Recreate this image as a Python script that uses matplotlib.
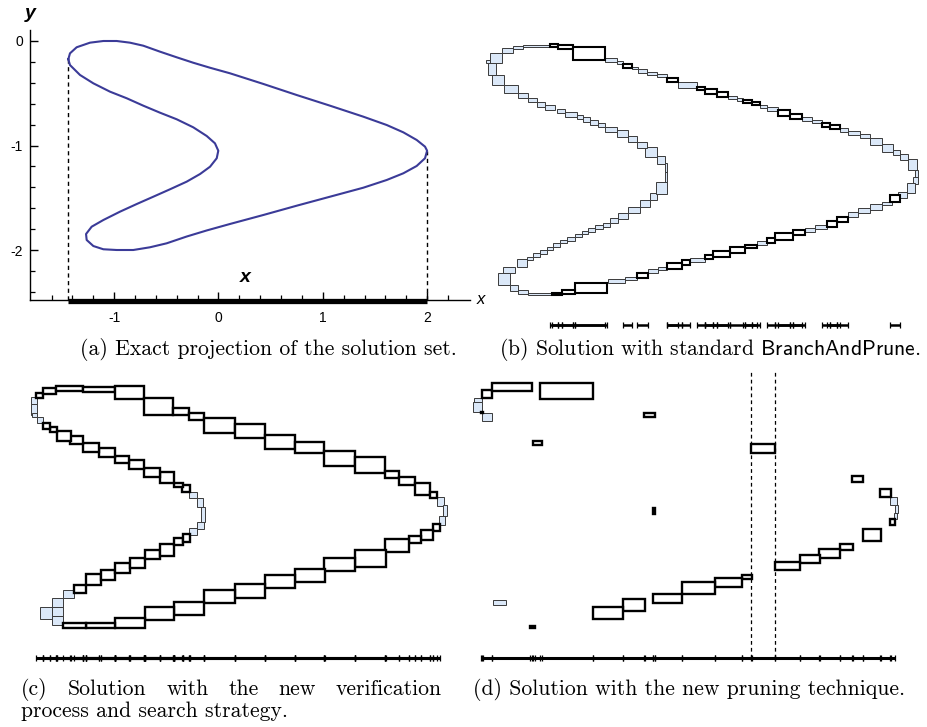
import matplotlib
matplotlib.use("Agg")
import matplotlib.pyplot as plt
from matplotlib.patches import Rectangle

plt.rcParams['axes.unicode_minus'] = False
plt.rcParams['mathtext.fontset'] = 'cm'

# ---------------- data ----------------
# (a) exact solution curve (x, y), closed loop
CURVE_PTS = [(-1.440, -0.175), (-1.424, -0.118), (-1.360, -0.060), (-1.232, -0.016),
             (-1.104, 0.000), (-0.976, 0.000), (-0.849, -0.016), (-0.721, -0.045),
             (-0.561, -0.102), (-0.401, -0.156), (-0.242, -0.208), (-0.081, -0.256),
             (0.110, -0.309), (0.430, -0.411), (0.750, -0.517), (1.069, -0.619),
             (1.388, -0.724), (1.613, -0.804), (1.772, -0.874), (1.900, -0.947),
             (1.980, -1.011), (2.000, -1.050), (1.980, -1.122), (1.900, -1.196),
             (1.772, -1.266), (1.613, -1.330), (1.388, -1.404), (1.069, -1.490),
             (0.750, -1.576), (0.430, -1.665), (0.110, -1.751), (-0.113, -1.813),
             (-0.305, -1.871), (-0.497, -1.936), (-0.657, -1.974), (-0.817, -2.000),
             (-0.976, -2.000), (-1.104, -1.993), (-1.200, -1.962), (-1.264, -1.904),
             (-1.270, -1.847), (-1.216, -1.777), (-1.104, -1.713), (-0.944, -1.633),
             (-0.784, -1.560), (-0.625, -1.490), (-0.465, -1.419), (-0.305, -1.346),
             (-0.177, -1.273), (-0.081, -1.203), (-0.017, -1.122), (-0.002, -1.050),
             (-0.034, -0.979), (-0.113, -0.909), (-0.242, -0.826), (-0.401, -0.749),
             (-0.561, -0.686), (-0.721, -0.619), (-0.880, -0.548), (-1.040, -0.485),
             (-1.200, -0.405), (-1.328, -0.325), (-1.424, -0.230)]
A_PROJ = (-1.44, 2.0)          # exact projection on x
A_LEFT_PT = (-1.44, -0.175)    # leftmost point of the curve
A_RIGHT_PT = (2.0, -1.05)      # rightmost point of the curve
A_XTICKS = [-1, 0, 1, 2]
A_XTICKLABELS = ['-1', '0', '1', '2']
A_XMINOR = [-1.6, -1.4, -1.2, -0.8, -0.6, -0.4, -0.2, 0.2, 0.4, 0.6, 0.8,
            1.2, 1.4, 1.6, 1.8, 2.2]
A_YTICKS = [0, -1, -2]
A_YTICKLABELS = ['0', '-1', '-2']
A_YMINOR = [-0.2, -0.4, -0.6, -0.8, -1.2, -1.4, -1.6, -1.8, -2.2, -2.4]

# boxes: (x0, x1, y0, y1)
# (b) standard BranchAndPrune
B_BLUE = [(-1.416, -1.323, -0.141, -0.061), (-1.451, -1.416, -0.147, -0.120),
          (-1.323, -1.229, -0.061, -0.027), (-1.229, -1.149, -0.035, -0.005),
          (-1.149, -0.936, -0.013, 0.003), (-0.496, -0.403, -0.133, -0.107),
          (-0.403, -0.349, -0.152, -0.125), (-0.283, -0.229, -0.195, -0.173),
          (-0.229, -0.163, -0.221, -0.195), (-0.163, -0.083, -0.240, -0.213),
          (-0.083, -0.003, -0.259, -0.232), (0.091, 0.237, -0.340, -0.293),
          (0.491, 0.557, -0.435, -0.408), (0.557, 0.611, -0.448, -0.427),
          (0.744, 0.797, -0.501, -0.480), (0.797, 0.891, -0.525, -0.493),
          (1.077, 1.157, -0.605, -0.579), (1.157, 1.237, -0.627, -0.600),
          (1.384, 1.451, -0.693, -0.667), (1.451, 1.544, -0.720, -0.688),
          (1.544, 1.624, -0.747, -0.715), (1.624, 1.717, -0.800, -0.747),
          (1.717, 1.811, -0.853, -0.795), (1.811, 1.864, -0.880, -0.840),
          (1.864, 1.931, -0.920, -0.872), (1.931, 1.997, -1.000, -0.915),
          (1.984, 2.005, -1.053, -1.000), (1.971, 2.005, -1.112, -1.053),
          (1.917, 1.984, -1.187, -1.107), (1.851, 1.917, -1.227, -1.173),
          (1.717, 1.797, -1.280, -1.253), (1.624, 1.717, -1.320, -1.272),
          (1.531, 1.624, -1.347, -1.307), (1.451, 1.531, -1.373, -1.333),
          (1.184, 1.277, -1.475, -1.440), (1.104, 1.184, -1.493, -1.467),
          (0.717, 0.797, -1.600, -1.568), (0.184, 0.304, -1.733, -1.707),
          (-0.069, -0.003, -1.800, -1.773), (-0.149, -0.069, -1.827, -1.795),
          (-0.336, -0.243, -1.880, -1.853), (-0.469, -0.336, -1.907, -1.875),
          (-1.109, -0.923, -2.000, -1.987), (-1.189, -1.109, -1.992, -1.960),
          (-1.256, -1.189, -1.965, -1.920), (-1.349, -1.256, -1.920, -1.821),
          (-1.309, -1.216, -1.821, -1.773), (-1.203, -1.123, -1.779, -1.715),
          (-1.123, -1.069, -1.720, -1.693), (-1.069, -1.016, -1.699, -1.667),
          (-1.016, -0.963, -1.672, -1.640), (-0.963, -0.909, -1.640, -1.613),
          (-0.909, -0.856, -1.619, -1.587), (-0.856, -0.803, -1.587, -1.560),
          (-0.803, -0.736, -1.565, -1.533), (-0.736, -0.683, -1.539, -1.512),
          (-0.683, -0.629, -1.512, -1.485), (-0.629, -0.576, -1.493, -1.467),
          (-0.576, -0.509, -1.472, -1.440), (-0.509, -0.456, -1.453, -1.421),
          (-0.456, -0.389, -1.427, -1.387), (-0.389, -0.309, -1.395, -1.341),
          (-0.309, -0.216, -1.347, -1.293), (-0.216, -0.136, -1.299, -1.240),
          (-0.136, -0.083, -1.240, -1.187), (-0.088, 0.003, -1.192, -1.093),
          (-0.016, 0.003, -1.093, -1.000), (-0.016, 0.003, -1.013, -0.947),
          (-0.083, -0.016, -0.952, -0.888), (-0.176, -0.083, -0.893, -0.819),
          (-0.243, -0.163, -0.827, -0.773), (-0.309, -0.243, -0.773, -0.728),
          (-0.403, -0.309, -0.733, -0.680), (-0.496, -0.403, -0.693, -0.653),
          (-0.549, -0.496, -0.659, -0.627), (-0.616, -0.549, -0.640, -0.600),
          (-0.669, -0.616, -0.613, -0.579), (-0.723, -0.669, -0.595, -0.560),
          (-0.816, -0.723, -0.573, -0.533), (-0.883, -0.816, -0.547, -0.515),
          (-0.976, -0.896, -0.520, -0.480), (-1.043, -0.976, -0.493, -0.453),
          (-1.109, -1.043, -0.453, -0.427), (-1.189, -1.109, -0.427, -0.381),
          (-1.301, -1.195, -0.381, -0.320), (-1.397, -1.301, -0.320, -0.240),
          (-1.429, -1.371, -0.240, -0.147)]
B_BLACK = [(-0.936, -0.869, -0.013, 0.005), (-0.869, -0.749, -0.035, -0.003),
           (-0.749, -0.496, -0.120, -0.013), (-0.349, -0.283, -0.187, -0.152),
           (-0.003, 0.091, -0.299, -0.261), (0.237, 0.304, -0.360, -0.333),
           (0.304, 0.397, -0.392, -0.352), (0.397, 0.491, -0.413, -0.373),
           (0.611, 0.677, -0.467, -0.440), (0.677, 0.744, -0.480, -0.453),
           (0.891, 0.984, -0.568, -0.520), (0.984, 1.077, -0.592, -0.552),
           (1.237, 1.304, -0.653, -0.621), (1.304, 1.384, -0.675, -0.640),
           (1.784, 1.864, -1.253, -1.200), (1.357, 1.451, -1.413, -1.373),
           (1.277, 1.357, -1.453, -1.405), (1.011, 1.104, -1.520, -1.480),
           (0.864, 1.011, -1.560, -1.507), (0.797, 0.864, -1.587, -1.547),
           (0.624, 0.717, -1.627, -1.600), (0.504, 0.624, -1.661, -1.613),
           (0.371, 0.504, -1.693, -1.645), (0.304, 0.371, -1.715, -1.680),
           (0.117, 0.184, -1.760, -1.720), (-0.003, 0.117, -1.795, -1.747),
           (-0.243, -0.149, -1.867, -1.821), (-0.736, -0.483, -1.987, -1.907),
           (-0.843, -0.736, -1.995, -1.960), (-0.923, -0.843, -2.000, -1.981)]

# (c) new verification process and search strategy
C_BLUE = [(-1.439, -1.389, -0.153, -0.094), (-1.439, -1.389, -0.242, -0.153),
          (-1.431, -1.389, -0.261, -0.228), (-1.389, -1.333, -0.311, -0.256),
          (1.950, 2.008, -1.000, -0.922), (1.994, 2.028, -1.083, -0.992),
          (1.967, 2.017, -1.158, -1.083), (-1.264, -1.167, -1.992, -1.917),
          (-1.361, -1.264, -1.944, -1.844), (-1.264, -1.167, -1.917, -1.844),
          (-1.264, -1.167, -1.844, -1.764), (-1.167, -1.078, -1.764, -1.700),
          (-0.117, -0.056, -1.242, -1.186), (-0.056, 0.006, -1.194, -1.131),
          (-0.017, 0.011, -1.131, -1.006), (-0.056, 0.000, -1.006, -0.936),
          (-0.117, -0.056, -0.936, -0.881)]
C_BLACK = [(-1.394, -1.333, -0.103, -0.061), (-1.333, -1.228, -0.067, -0.019),
           (-1.228, -1.000, -0.039, 0.003), (-1.000, -0.736, -0.050, -0.006),
           (-0.736, -0.494, -0.111, 0.000), (-0.494, -0.250, -0.242, -0.103),
           (-0.250, -0.117, -0.242, -0.186), (-0.117, 0.006, -0.283, -0.222),
           (0.006, 0.264, -0.389, -0.264), (0.264, 0.514, -0.436, -0.317),
           (0.514, 0.764, -0.525, -0.408), (0.764, 1.006, -0.561, -0.464),
           (1.006, 1.264, -0.667, -0.542), (1.264, 1.514, -0.728, -0.594),
           (1.514, 1.633, -0.769, -0.708), (1.633, 1.764, -0.825, -0.756),
           (1.764, 1.889, -0.908, -0.811), (1.889, 1.950, -0.936, -0.881),
           (1.911, 1.972, -1.206, -1.150), (1.811, 1.917, -1.283, -1.200),
           (1.717, 1.811, -1.311, -1.250), (1.514, 1.717, -1.381, -1.278),
           (1.264, 1.522, -1.506, -1.367), (1.006, 1.264, -1.542, -1.431),
           (0.764, 1.014, -1.633, -1.528), (0.514, 0.764, -1.686, -1.575),
           (0.264, 0.514, -1.769, -1.653), (0.006, 0.264, -1.806, -1.700),
           (-0.244, 0.006, -1.908, -1.797), (-0.486, -0.244, -1.950, -1.839),
           (-0.736, -0.486, -2.019, -1.936), (-0.978, -0.736, -2.019, -1.978),
           (-1.172, -0.978, -2.019, -1.978), (-1.078, -0.978, -1.722, -1.658),
           (-0.978, -0.856, -1.658, -1.567), (-0.856, -0.736, -1.617, -1.533),
           (-0.736, -0.611, -1.561, -1.472), (-0.611, -0.486, -1.519, -1.436),
           (-0.486, -0.361, -1.444, -1.367), (-0.361, -0.244, -1.417, -1.317),
           (-0.244, -0.172, -1.325, -1.269), (-0.172, -0.111, -1.297, -1.233),
           (-0.181, -0.111, -0.886, -0.825), (-0.244, -0.172, -0.844, -0.806),
           (-0.361, -0.244, -0.811, -0.714), (-0.494, -0.361, -0.761, -0.686),
           (-0.617, -0.494, -0.692, -0.617), (-0.736, -0.617, -0.644, -0.581),
           (-0.867, -0.736, -0.594, -0.519), (-1.000, -0.867, -0.547, -0.478),
           (-1.111, -1.000, -0.483, -0.417), (-1.222, -1.106, -0.456, -0.372),
           (-1.278, -1.222, -0.381, -0.339), (-1.333, -1.278, -0.361, -0.306)]

# (d) new pruning technique
D_BLUE = [(-1.451, -1.389, -0.155, -0.122), (-1.457, -1.389, -0.236, -0.155),
          (-1.383, -1.302, -0.313, -0.245), (1.940, 2.000, -0.997, -0.929),
          (1.981, 2.008, -1.060, -0.997), (1.973, 2.000, -1.111, -1.060),
          (-1.293, -1.190, -1.815, -1.772)]
D_BLACK = [(-1.397, -1.375, -0.250, -0.236), (-1.383, -1.302, -0.122, -0.060),
           (-1.307, -0.981, -0.065, 0.000), (-0.913, -0.478, -0.136, 0.000),
           (-0.065, 0.024, -0.283, -0.245), (-0.973, -0.899, -0.511, -0.476),
           (0.804, 1.005, -0.571, -0.500), (0.011, 0.022, -1.071, -1.024),
           (1.628, 1.723, -0.807, -0.761), (1.859, 1.948, -0.935, -0.864),
           (1.940, 1.981, -1.160, -1.111), (1.717, 1.864, -1.288, -1.193),
           (1.533, 1.636, -1.364, -1.315), (1.364, 1.533, -1.427, -1.359),
           (1.207, 1.370, -1.467, -1.405), (1.005, 1.207, -1.527, -1.459),
           (0.731, 0.813, -1.603, -1.568), (0.514, 0.731, -1.663, -1.595),
           (0.242, 0.514, -1.726, -1.628), (0.011, 0.242, -1.799, -1.726),
           (-0.234, -0.057, -1.859, -1.766), (-0.478, -0.234, -1.929, -1.832),
           (-0.995, -0.954, -2.003, -1.984)]
D_DASHED_X = [0.804, 1.005]

CAPTION_A = "(a) Exact projection of the solution set."
CAPTION_B = r"(b) Solution with standard $\mathsf{BranchAndPrune}$."
CAPTION_C1 = ["(c)", "Solution", "with", "the", "new", "verification"]
CAPTION_C2 = "process and search strategy."
CAPTION_D = "(d) Solution with the new pruning technique."

# ---------------- layout ----------------
W, H = 927, 727
fig = plt.figure(figsize=(W / 100, H / 100), dpi=100)
fig.patch.set_facecolor('white')
rend = fig.canvas.get_renderer()


def make_axes(rect_px, origin_px, scale):
    L, R, T, B = rect_px
    x0, y0 = origin_px
    ax = fig.add_axes([L / W, 1 - B / H, (R - L) / W, (B - T) / H])
    ax.set_xlim((L - x0) / scale[0], (R - x0) / scale[0])
    ax.set_ylim(-(B - y0) / scale[1], -(T - y0) / scale[1])
    ax.patch.set_alpha(0)
    return ax


def fx(px):
    return px / W


def fy(py):
    return 1 - py / H


BLUE_FACE = '#dbe8f8'


def draw_boxes(ax, blue, black, lw_black, bar_y, tick_h, bar_lw):
    for (x0, x1, y0, y1) in blue:
        ax.add_patch(Rectangle((x0, y0), x1 - x0, y1 - y0, facecolor=BLUE_FACE,
                               edgecolor='#3a3a3a', lw=0.7, zorder=2))
    for (x0, x1, y0, y1) in black:
        ax.add_patch(Rectangle((x0, y0), x1 - x0, y1 - y0, facecolor='white',
                               edgecolor='black', lw=lw_black, zorder=3,
                               joinstyle='miter'))
    # projection of the verified boxes on x
    xs0 = [b[0] for b in black]
    xs1 = [b[1] for b in black]
    ax.hlines([bar_y] * len(black), xs0, xs1, color='black', lw=bar_lw, zorder=3)
    ax.vlines(xs0 + xs1, bar_y - tick_h, bar_y + tick_h, color='black', lw=0.9, zorder=3)
    ax.axis('off')


# ---- panel (a)
axa = make_axes((30, 470, 30, 300), (218.5, 41), (104.3, 104.5))
cx = [p[0] for p in CURVE_PTS] + [CURVE_PTS[0][0]]
cy = [p[1] for p in CURVE_PTS] + [CURVE_PTS[0][1]]
axa.plot(cx, cy, color='#3b3b98', lw=1.5, solid_joinstyle='round', zorder=3)
ybot = axa.get_ylim()[0]
axa.vlines([A_LEFT_PT[0]], ybot, A_LEFT_PT[1], colors='black', lw=1.0,
           linestyles=(0, (3, 2.5)), zorder=2)
axa.vlines([A_RIGHT_PT[0]], ybot, A_RIGHT_PT[1], colors='black', lw=1.0,
           linestyles=(0, (3, 2.5)), zorder=2)
axa.hlines([ybot - 0.014], A_PROJ[0], A_PROJ[1], colors='black', lw=3.8,
           clip_on=False, zorder=4)
for s in ('top', 'right'):
    axa.spines[s].set_visible(False)
for s in ('left', 'bottom'):
    axa.spines[s].set_linewidth(1.0)
axa.set_xticks(A_XTICKS)
axa.set_xticklabels(A_XTICKLABELS)
axa.set_xticks(A_XMINOR, minor=True)
axa.set_yticks(A_YTICKS)
axa.set_yticklabels(A_YTICKLABELS)
axa.set_yticks(A_YMINOR, minor=True)
axa.tick_params(which='major', direction='in', length=6, width=1.0,
                labelsize=10, pad=8)
axa.tick_params(which='minor', direction='in', length=3.5, width=0.9)
axa.tick_params(axis='y', which='major', pad=5)
for lab in axa.get_xticklabels() + axa.get_yticklabels():
    lab.set_fontfamily('Liberation Sans')

fig.text(fx(30), fy(14), 'y', fontsize=14, fontweight='bold', fontstyle='italic',
         family='Liberation Sans', ha='center', va='center')
fig.text(fx(245), fy(278), 'x', fontsize=14, fontweight='bold', fontstyle='italic',
         family='Liberation Sans', ha='center', va='center')
fig.text(fx(481), fy(300), 'x', fontsize=12, fontstyle='italic',
         family='Liberation Sans', ha='center', va='center')

# ---- panel (b)
axb = make_axes((470, 927, 28, 335), (667, 45), (125, 125))
draw_boxes(axb, B_BLUE, B_BLACK, 1.5, -2.24, 0.024, 1.8)

# ---- panel (c)
axc = make_axes((0, 462, 372, 668), (203.33, 386), (120, 120))
draw_boxes(axc, C_BLUE, C_BLACK, 1.7, -2.267, 0.025, 2.2)

# ---- panel (d)
axd = make_axes((462, 927, 372, 668), (652, 382.67), (122.67, 122.67))
draw_boxes(axd, D_BLUE, D_BLACK, 1.7, -2.245, 0.025, 2.2)
ylo, yhi = -2.245, axd.get_ylim()[1]
axd.vlines(D_DASHED_X, ylo, yhi, colors='black', lw=0.9,
           linestyles=(0, (3, 2.5)), zorder=1)

# ---- captions (one font size fitted to the measured caption widths)
def text_width(s, size):
    t = fig.text(0, 0, s, family='cmr10', fontsize=size)
    w = t.get_window_extent(rend).width
    t.remove()
    return w


cap_spans = [(CAPTION_A, 87, 450, 355), (CAPTION_B, 500, 920, 355),
             (CAPTION_D, 466, 912, 695)]
sizes = [10 * (r - l) / text_width(s, 10) for s, l, r, _ in cap_spans]
cap_size = sum(sizes) / len(sizes)

CAP = dict(family='cmr10', fontsize=cap_size, va='baseline')
for s, l, r, base in cap_spans:
    fig.text(fx((l + r) / 2), fy(base), s, ha='center', **CAP)
fig.text(fx(21), fy(717), CAPTION_C2, ha='left', **CAP)

# justified first line of caption (c)
word_texts = [fig.text(0, fy(695), w, ha='left', **CAP) for w in CAPTION_C1]
widths = [t.get_window_extent(rend).width for t in word_texts]
gap = (442 - 21 - sum(widths)) / (len(widths) - 1)
xpos = 21
for t, wdt in zip(word_texts, widths):
    t.set_x(fx(xpos))
    xpos += wdt + gap

fig.savefig('out.png', dpi=100, facecolor='white')
